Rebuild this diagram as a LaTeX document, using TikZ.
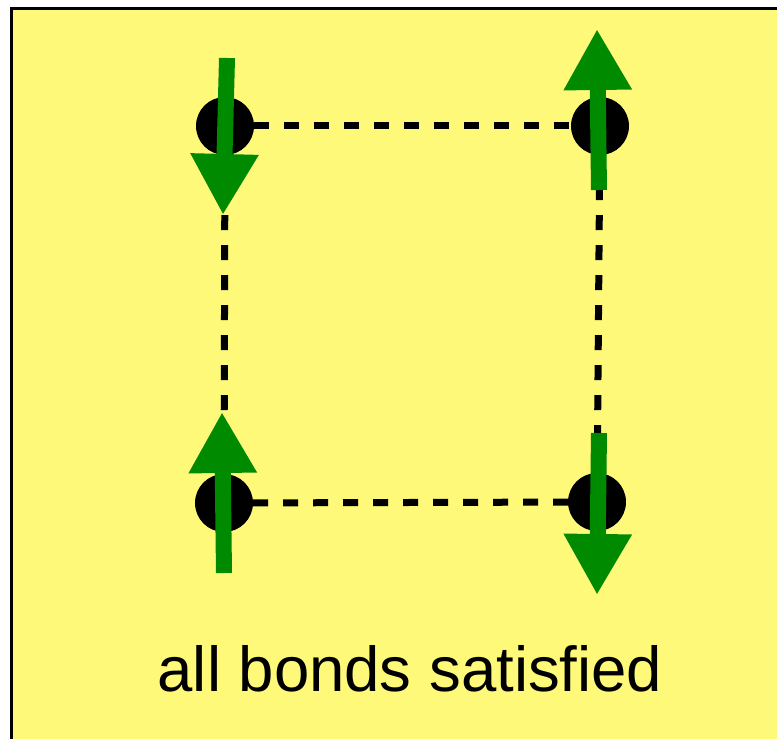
\documentclass[tikz,border=0pt]{standalone}
\usepackage{fontspec}
\setmainfont{Liberation Sans}
\usepackage{xcolor}
\usepackage{tikz}
\usetikzlibrary{arrows.meta,positioning}

\definecolor{paneyellow}{RGB}{255,249,122}
\definecolor{spingreen}{RGB}{0,138,0}

\begin{document}
\begin{tikzpicture}[x=1pt, y=1pt,
    site/.style={circle, fill=black, minimum size=58pt, inner sep=0pt},
    bond/.style={line width=7pt, dash pattern=on 15pt off 15pt},
    spin/.style={spingreen, line width=16pt, -{Triangle[length=61pt,width=64pt]}}]
    \clip (0,0) rectangle (777,739);
    \draw [fill=paneyellow, line width=3pt] (11.5,-20) rectangle (800,730);

    % lattice sites
    \node [site] (tl) at (225,613) {};
    \node [site] (tr) at (600,613) {};
    \node [site] (bl) at (224,236) {};
    \node [site] (br) at (597,237) {};

    \draw [bond] (tl) -- (tr);
    \draw [bond] (bl) -- (br);
    \draw [bond] (tl) -- (bl);
    \draw [bond] (tr) -- (br);

    % spins
    \coordinate (tl-tail) at (227,681);
    \coordinate (tl-tip) at (223,524);
    \coordinate (tr-tail) at (599,549);
    \coordinate (tr-tip) at (597,710);
    \coordinate (bl-tail) at (224,166);
    \coordinate (bl-tip) at (222,327);
    \coordinate (br-tail) at (599,306);
    \coordinate (br-tip) at (597,144);
    \draw [spin] (tl-tail) -- (tl-tip);
    \draw [spin] (tr-tail) -- (tr-tip);
    \draw [spin] (bl-tail) -- (bl-tip);
    \draw [spin] (br-tail) -- (br-tip);

    \node [anchor=base, inner sep=0pt, font=\fontsize{63.5}{70}\selectfont] (caption) at (410,47) {all bonds satisfied};
\end{tikzpicture}
\end{document}
